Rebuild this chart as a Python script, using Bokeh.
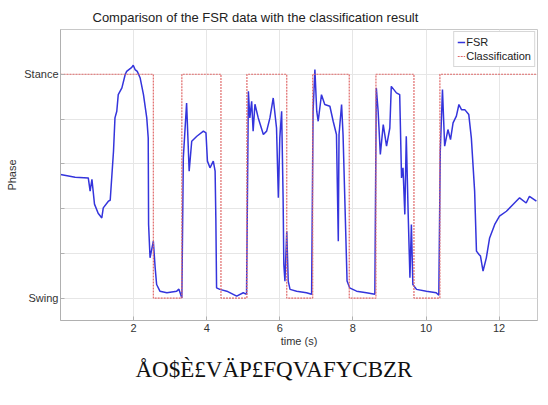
from bokeh.plotting import figure
from bokeh.models import FixedTicker, Title, Legend, LegendItem, Range1d
from bokeh.embed import file_html
from bokeh.resources import INLINE

# FSR signal (time in s, normalised phase value: 0 = Swing, 1 = Stance)
fsr_t = [0.00, 0.40, 0.76, 0.81, 0.86, 0.93, 1.03, 1.13, 1.17, 1.31, 1.36, 1.45, 1.49, 1.54,
         1.58, 1.68, 1.77, 1.81, 1.95, 1.99, 2.04, 2.10, 2.18, 2.27, 2.36, 2.40, 2.41, 2.45,
         2.54, 2.59, 2.63, 2.72, 2.91, 3.18, 3.24, 3.32, 3.36, 3.45, 3.52, 3.59, 3.73, 3.91,
         3.98, 4.02, 4.09, 4.18, 4.23, 4.25, 4.27, 4.36, 4.55, 4.82, 5.00, 5.09, 5.14, 5.18,
         5.23, 5.27, 5.32, 5.41, 5.55, 5.64, 5.73, 5.82, 5.91, 5.96, 6.00, 6.05, 6.09, 6.11,
         6.14, 6.19, 6.23, 6.28, 6.46, 6.73, 6.87, 6.91, 6.96, 7.01, 7.05, 7.14, 7.23, 7.37,
         7.46, 7.55, 7.60, 7.62, 7.69, 7.73, 7.81, 7.84, 7.91, 8.10, 8.37, 8.60, 8.64, 8.69,
         8.75, 8.83, 8.92, 9.01, 9.05, 9.19, 9.28, 9.33, 9.37, 9.42, 9.46, 9.51, 9.56, 9.60,
         9.64, 9.74, 10.01, 10.28, 10.35, 10.39, 10.45, 10.48, 10.51, 10.60, 10.67, 10.74,
         10.83, 10.90, 10.97, 11.06, 11.17, 11.24, 11.33, 11.38, 11.45, 11.49, 11.56, 11.65,
         11.74, 11.88, 12.01, 12.20, 12.38, 12.56, 12.74, 12.83, 13.02]
fsr_v = [0.552, 0.540, 0.537, 0.478, 0.531, 0.420, 0.379, 0.358, 0.403, 0.433, 0.437, 0.656,
         0.805, 0.835, 0.909, 0.939, 0.999, 1.013, 1.031, 1.040, 1.021, 1.013, 0.983, 0.909,
         0.805, 0.716, 0.329, 0.180, 0.254, 0.135, 0.061, 0.031, 0.024, 0.031, 0.040, 0.001,
         0.626, 0.872, 0.567, 0.701, 0.723, 0.746, 0.738, 0.612, 0.582, 0.612, 0.567, 0.358,
         0.046, 0.039, 0.031, 0.009, 0.024, 0.017, 0.924, 0.805, 0.879, 0.746, 0.866, 0.805,
         0.731, 0.746, 0.805, 0.894, 0.760, 0.448, 0.716, 0.835, 0.448, 0.150, 0.076, 0.299,
         0.076, 0.039, 0.031, 0.024, 0.017, 0.835, 1.021, 0.835, 0.790, 0.909, 0.865, 0.857,
         0.790, 0.731, 0.254, 0.731, 0.865, 0.731, 0.254, 0.076, 0.046, 0.031, 0.024, 0.017,
         0.939, 0.835, 0.642, 0.775, 0.679, 0.760, 0.946, 0.917, 0.909, 0.537, 0.582, 0.374,
         0.723, 0.388, 0.091, 0.329, 0.061, 0.039, 0.031, 0.024, 0.013, 0.656, 0.932, 0.805,
         0.679, 0.753, 0.708, 0.783, 0.813, 0.865, 0.842, 0.842, 0.820, 0.716, 0.478, 0.210,
         0.195, 0.188, 0.121, 0.180, 0.269, 0.329, 0.366, 0.388, 0.418, 0.448, 0.425, 0.455,
         0.433]

# Classification result (step function: value holds from each time until the next)
class_t = [0.0, 2.54, 3.32, 4.39, 5.10, 6.19, 6.90, 7.90, 8.63, 9.67, 10.38, 13.05]
class_v = [1, 0, 1, 0, 1, 0, 1, 0, 1, 0, 1, 1]

x_ticks = [2, 4, 6, 8, 10, 12]
y_ticks = [0, 0.2, 0.4, 0.6, 0.8, 1]
y_tick_labels = ["Swing", "", "", "", "", "Stance"]

title_text = "Comparison of the FSR data with the classification result"
caption_text = "ÅO$È£VÄP£FQVAFYCBZR"

p = figure(width=548, height=405, output_backend="svg", toolbar_location=None,
           x_range=Range1d(0, 13.05), y_range=Range1d(-0.1, 1.2),
           min_border_left=60, min_border_right=11, min_border_top=29,
           min_border_bottom=85, background_fill_color="white",
           border_fill_color="white")
p.title = None
p.add_layout(Title(text=title_text, align="left", offset=32,
                   text_font="Liberation Sans", text_font_size="13px",
                   text_font_style="normal", text_color="#222222"), "above")

r_fsr = p.line(fsr_t, fsr_v, line_color="#3434dc", line_width=1.5)
r_cls = p.step(class_t, class_v, mode="after", line_color="#e06a6a",
               line_width=1.2, line_dash="2 1")

p.outline_line_color = "#c8c8c8"
p.xgrid.grid_line_color = "#e6e6e6"
p.ygrid.grid_line_color = "#e6e6e6"
p.xaxis.ticker = FixedTicker(ticks=x_ticks)
p.yaxis.ticker = FixedTicker(ticks=y_ticks)
p.yaxis.major_label_overrides = {t: l for t, l in zip(y_ticks, y_tick_labels)}
for ax in (p.xaxis[0], p.yaxis[0]):
    ax.axis_line_color = "#b0b0b0"
    ax.major_tick_line_color = "#b0b0b0"
    ax.major_tick_in = 4
    ax.major_tick_out = 0
    ax.minor_tick_line_color = None
    ax.major_label_text_font = "Liberation Sans"
    ax.major_label_text_font_size = "11px"
    ax.major_label_text_color = "#333333"
    ax.axis_label_text_font = "Liberation Sans"
    ax.axis_label_text_font_size = "11px"
    ax.axis_label_text_font_style = "normal"
    ax.axis_label_text_color = "#333333"
    ax.major_label_standoff = 3
p.xaxis.axis_label = "time (s)"
p.xaxis.axis_label_standoff = 0
p.yaxis.axis_label = "Phase"
p.yaxis.axis_label_standoff = 3
p.yaxis.major_label_standoff = 2

p.add_layout(Title(text=caption_text, align="left", offset=75,
                   text_font="Liberation Serif", text_font_size="23px",
                   text_font_style="normal", text_color="#111111"), "below")

legend = Legend(items=[LegendItem(label="FSR", renderers=[r_fsr]),
                       LegendItem(label="Classification", renderers=[r_cls])],
                location="top_right", margin=2, padding=3, spacing=0,
                glyph_width=8, glyph_height=14, label_standoff=1,
                label_text_font="Liberation Sans", label_text_font_size="11px",
                label_text_color="#222222", label_height=14,
                border_line_color="#b0b0b0", background_fill_alpha=1.0)
p.add_layout(legend)

open("out.html", "w").write(file_html(p, INLINE))
